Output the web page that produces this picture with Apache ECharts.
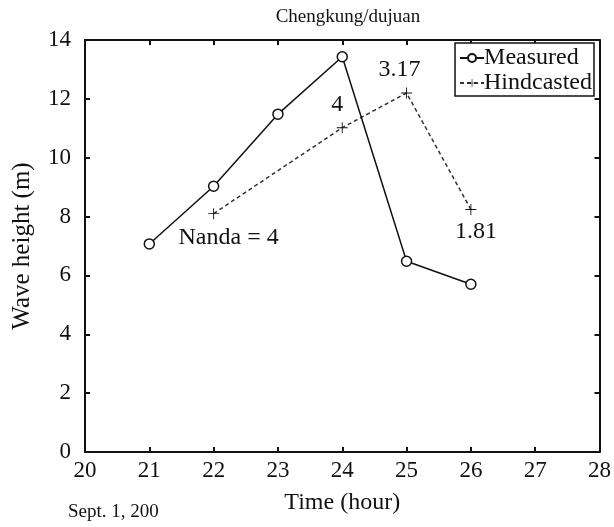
<!DOCTYPE html>
<html>
<head>
<meta charset="utf-8">
<script src="https://cdn.jsdelivr.net/npm/echarts@6/dist/echarts.min.js"></script>
<style>
html, body { margin: 0; padding: 0; background: #fff; }
#main { width: 614px; height: 527px; }
</style>
</head>
<body>
<div id="main"></div>
<script>
// hours
var measuredHours = [21, 22, 23, 24, 25, 26];
var measuredHeights = [7.07, 9.03, 11.48, 13.43, 6.48, 5.7];
var hindHours = [22, 24, 25, 26];
var hindHeights = [8.1, 11.02, 12.2, 8.24];
var hindLabels = ['Nanda = 4', '4', '3.17', '1.81'];

var serif = 'Liberation Serif, Times New Roman, serif';
var plus = 'path://M4.6,0h0.8v4.6h4.6v0.8h-4.6v4.6h-0.8v-4.6h-4.6v-0.8h4.6z';

function pairs(xs, ys) {
    var out = [];
    for (var i = 0; i < xs.length; i++) {
        out.push([xs[i], ys[i]]);
    }
    return out;
}

// label placement for each hindcast point
var labelPos = [
    { position: 'bottom', offset: [15, 2] },
    { position: 'top', offset: [-5, 0] },
    { position: 'top', offset: [-7, -1] },
    { position: 'bottom', offset: [5, 0] }
];
var hindData = [];
for (var i = 0; i < hindHours.length; i++) {
    hindData.push({
        value: [hindHours[i], hindHeights[i]],
        label: {
            show: true,
            formatter: hindLabels[i],
            position: labelPos[i].position,
            offset: labelPos[i].offset,
            fontFamily: serif,
            fontSize: 24,
            color: '#111'
        }
    });
}

var axisCommon = {
    axisLine: { show: true, onZero: false, lineStyle: { color: '#111', width: 2 } },
    axisTick: { show: true, inside: true, length: 5, lineStyle: { color: '#111', width: 2 } },
    splitLine: { show: false }
};
var tickFont = { fontFamily: serif, fontSize: 23, color: '#111' };
var nameFont = { fontFamily: serif, fontSize: 24, color: '#111' };

var chart = echarts.init(document.getElementById('main'));
var option = {
    backgroundColor: '#fff',
    animation: false,
    title: {
        text: 'Chengkung/dujuan',
        left: 343,
        textAlign: 'center',
        top: 3,
        textStyle: { fontFamily: serif, fontSize: 19, fontWeight: 'normal', color: '#111' }
    },
    grid: { left: 85, right: 14, top: 40, bottom: 75 },
    legend: {
        orient: 'vertical',
        right: 20,
        top: 43,
        itemGap: 1,
        itemWidth: 24,
        itemHeight: 10,
        padding: [3, 2, 1, 4],
        borderColor: '#111',
        borderWidth: 1.5,
        backgroundColor: '#fff',
        textStyle: { fontFamily: serif, fontSize: 24, color: '#111', padding: [0, 0, 0, -5] },
        data: ['Measured', 'Hindcasted']
    },
    xAxis: [
        Object.assign({}, axisCommon, {
            type: 'value', min: 20, max: 28, interval: 1,
            name: 'Time (hour)', nameLocation: 'middle', nameGap: 39,
            nameTextStyle: nameFont,
            axisLabel: Object.assign({ margin: 7 }, tickFont)
        }),
        Object.assign({}, axisCommon, {
            type: 'value', min: 20, max: 28, interval: 1, position: 'top',
            axisLabel: { show: false }
        })
    ],
    yAxis: [
        Object.assign({}, axisCommon, {
            type: 'value', min: 0, max: 14, interval: 2,
            name: 'Wave height (m)', nameLocation: 'middle', nameGap: 50,
            nameTextStyle: { fontFamily: serif, fontSize: 25, color: '#111' },
            axisLabel: Object.assign({ margin: 14 }, tickFont)
        }),
        Object.assign({}, axisCommon, {
            type: 'value', min: 0, max: 14, interval: 2, position: 'right',
            axisLabel: { show: false }
        })
    ],
    series: [{
        name: 'Measured',
        type: 'line',
        data: pairs(measuredHours, measuredHeights),
        symbol: 'circle',
        symbolSize: 10,
        showAllSymbol: true,
        lineStyle: { color: '#111', width: 1.5 },
        itemStyle: { color: '#fff', borderColor: '#111', borderWidth: 1.5 },
        z: 3
    }, {
        name: 'Hindcasted',
        type: 'line',
        data: hindData,
        symbol: plus,
        symbolSize: 11,
        showAllSymbol: true,
        lineStyle: { color: '#333', width: 1.5, type: [4, 3] },
        itemStyle: { color: '#111' },
        z: 2
    }],
    graphic: [{
        type: 'text',
        left: 68,
        top: 503,
        style: { text: 'Sept. 1, 200', font: '19px ' + serif, fill: '#111' }
    }]
};
chart.setOption(option);
</script>
</body>
</html>
